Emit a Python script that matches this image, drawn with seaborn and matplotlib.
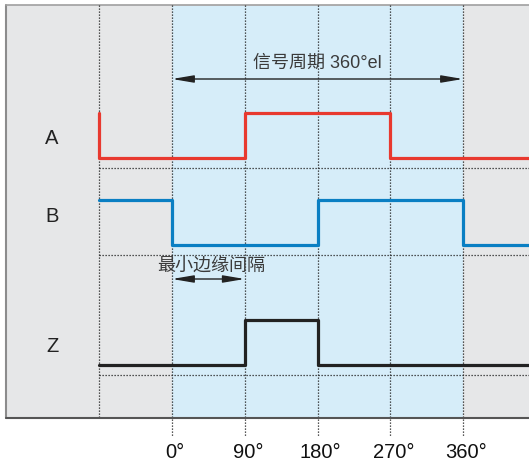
import numpy as np
import pandas as pd
import matplotlib
matplotlib.use("Agg")
import matplotlib.pyplot as plt
from matplotlib.patches import Rectangle
import seaborn as sns

# signal data (phase in degrees, logic level)
a_deg = [-90, -90, 90, 270, 470]
a_lvl = [1, 0, 1, 0, 0]
b_deg = [-90, 0, 180, 360, 470]
b_lvl = [1, 0, 1, 0, 0]
z_deg = [-90, 90, 180, 470]
z_lvl = [0, 1, 0, 0]
signal_names = ["A", "B", "Z"]
tick_deg = [0, 90, 180, 270, 360]
tick_labels = ["0°", "90°", "180°", "270°", "360°"]

sns.set_style("white")
plt.rcParams['font.family'] = ['Liberation Sans', 'Noto Sans CJK SC', 'DejaVu Sans']

# pixel <-> degree helpers (0° at x=172px, 360° at x=463px)
PX_PER_DEG = (463 - 172) / 360.0
def px2deg(p):
    return (p - 172) / PX_PER_DEG

fig = plt.figure(figsize=(5.29, 4.67), dpi=100)
ax = fig.add_axes([0, 0, 1, 1])
ax.set_xlim(px2deg(0), px2deg(529))
ax.set_ylim(467, 0)
ax.axis('off')

panel_top, panel_bot = 5, 418
# gray panel
ax.add_patch(Rectangle((px2deg(6), panel_top), px2deg(560) - px2deg(6), panel_bot - panel_top,
                       facecolor='#e6e7e8', edgecolor='none', zorder=0))
ax.plot([px2deg(6), px2deg(6)], [panel_top, panel_bot], color='#8c8c8c', lw=1.5, zorder=1)
ax.plot([px2deg(6), px2deg(560)], [panel_top, panel_top], color='#a0a0a0', lw=1.2, zorder=1)
ax.plot([px2deg(6), px2deg(560)], [panel_bot, panel_bot], color='#555555', lw=1.5, zorder=4)
# blue region for one period
ax.add_patch(Rectangle((0, panel_top + 1), 360, panel_bot - panel_top - 1,
                       facecolor='#d6edf9', edgecolor='none', zorder=0.5))

dot = dict(color='#222222', lw=0.9, linestyle=(0, (1, 1.4)), zorder=2)
ax.plot([-90, -90], [panel_top, panel_bot], **dot)
for d in tick_deg:
    ax.plot([d, d], [panel_top, 436], **dot)

# signals
lows = [158, 245, 365]
label_y = [138, 216, 347]
amp = 45
colors = ['#e8392f', '#0a7fc3', '#222222']
for name, deg, lvl, low, ly, c in zip(signal_names, [a_deg, b_deg, z_deg], [a_lvl, b_lvl, z_lvl],
                                      lows, label_y, colors):
    df = pd.DataFrame({'deg': deg, 'y': [low - amp * v for v in lvl]})
    sns.lineplot(data=df, x='deg', y='y', estimator=None, sort=False, drawstyle='steps-post',
                 color=c, lw=2.3, ax=ax, zorder=3)
    ax.plot([-90, px2deg(540)], [low + 10, low + 10], **dot)
    ax.text(px2deg(52), ly, name, fontsize=14.5, ha='center', va='center', color='#222222')

arrow = dict(arrowstyle='<|-|>,head_length=1.3,head_width=0.22', mutation_scale=10,
             color='#222222', lw=1.0, shrinkA=0, shrinkB=0)
# period arrow
ax.annotate('', xy=(360, 79), xytext=(0, 79), arrowprops=arrow, zorder=5)
ax.text(180, 63, '信号周期 360°el', fontsize=13, ha='center', va='center', color='#3a3a3a')

# min edge spacing arrow
ax.annotate('', xy=(90, 279), xytext=(0, 279), arrowprops=arrow, zorder=5)
ax.text(px2deg(157), 266, '最小边缘间隔', fontsize=13, ha='left', va='center', color='#3a3a3a')

for d, lab in zip(tick_deg, tick_labels):
    ax.text(d + 4, 453, lab, fontsize=14.5, ha='center', va='center', color='#111111')

fig.savefig('out.png', dpi=100)
